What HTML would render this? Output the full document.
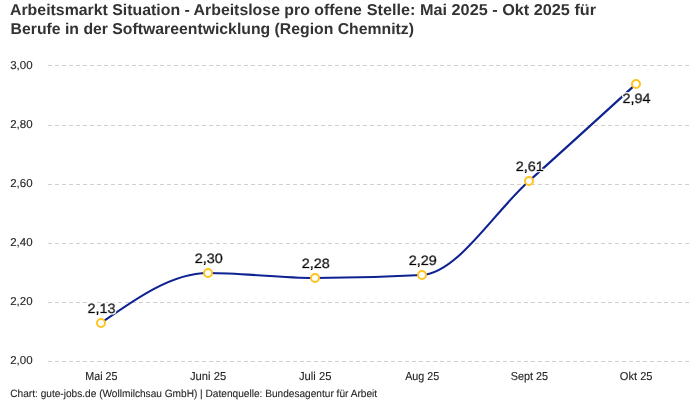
<!DOCTYPE html>
<html lang="de">
<head>
<meta charset="utf-8">
<title>Arbeitsmarkt Situation</title>
<style>
html,body{margin:0;padding:0;background:#fff;}
body{width:700px;height:400px;overflow:hidden;font-family:"Liberation Sans",sans-serif;}
svg{display:block;}
text{font-family:"Liberation Sans",sans-serif;text-rendering:geometricPrecision;}
.title{font-size:15.7px;font-weight:bold;fill:#333;}
.ytick{font-size:11.5px;fill:#262626;stroke:#262626;stroke-width:0.12px;}
.xtick{font-size:11.5px;fill:#262626;stroke:#262626;stroke-width:0.12px;text-anchor:middle;}
.val{font-size:13.5px;fill:#000;text-anchor:middle;stroke:#000;stroke-width:0.7px;filter:url(#halo);}
.foot{font-size:10.5px;fill:#262626;stroke:#262626;stroke-width:0.1px;}
.grid line{stroke:#d0d0d0;stroke-width:1;stroke-dasharray:4 3;shape-rendering:crispEdges;}
.pt circle{fill:#fff;stroke:#ffc421;stroke-width:2;}
</style>
</head>
<body>
<svg width="700" height="400" viewBox="0 0 700 400">
<defs><filter id="halo" x="-20%" y="-40%" width="140%" height="180%"><feMorphology in="SourceAlpha" operator="dilate" radius="0.5 1.4" result="d"/><feFlood flood-color="#fff" result="w"/><feComposite in="w" in2="d" operator="in" result="h"/><feMerge><feMergeNode in="h"/><feMergeNode in="SourceGraphic"/></feMerge></filter></defs>
<rect width="700" height="400" fill="#fff"/>
<text class="title" y="14.7"><tspan x="10" textLength="351.9" lengthAdjust="spacingAndGlyphs">Arbeitsmarkt Situation - Arbeitslose pro offene</tspan> <tspan x="366.7" textLength="229.4" lengthAdjust="spacingAndGlyphs">Stelle: Mai 2025 - Okt 2025 für</tspan></text>
<text class="title" x="10.6" y="33.7" textLength="403.4" lengthAdjust="spacingAndGlyphs">Berufe in der Softwareentwicklung (Region Chemnitz)</text>
<g class="grid">
<line x1="48" x2="690" y1="65.5" y2="65.5"/>
<line x1="48" x2="690" y1="125.5" y2="125.5"/>
<line x1="48" x2="690" y1="184.5" y2="184.5"/>
<line x1="48" x2="690" y1="243.5" y2="243.5"/>
<line x1="48" x2="690" y1="302.5" y2="302.5"/>
<line x1="48" x2="690" y1="361.5" y2="361.5"/>
</g>
<g>
<text class="ytick" x="10.2" y="69">3,00</text>
<text class="ytick" x="10.2" y="128">2,80</text>
<text class="ytick" x="10.2" y="187">2,60</text>
<text class="ytick" x="10.2" y="246">2,40</text>
<text class="ytick" x="10.2" y="305">2,20</text>
<text class="ytick" x="10.2" y="364">2,00</text>
</g>
<g>
<text class="xtick" x="101.4" y="379.8" textLength="32.2" lengthAdjust="spacingAndGlyphs">Mai 25</text>
<text class="xtick" x="208.1" y="379.8" textLength="36.2" lengthAdjust="spacingAndGlyphs">Juni 25</text>
<text class="xtick" x="315.25" y="379.8" textLength="32.5" lengthAdjust="spacingAndGlyphs">Juli 25</text>
<text class="xtick" x="422.2" y="379.8" textLength="34" lengthAdjust="spacingAndGlyphs">Aug 25</text>
<text class="xtick" x="529.35" y="379.8" textLength="37.3" lengthAdjust="spacingAndGlyphs">Sept 25</text>
<text class="xtick" x="636.15" y="379.8" textLength="32.7" lengthAdjust="spacingAndGlyphs">Okt 25</text>
</g>
<path d="M101,323C136.67,298.00,172.33,273.00,208,273C243.67,273.00,279.33,278.00,315,278C350.67,278.00,386.33,277.00,422,275C457.67,273.00,493.33,212.83,529,181C564.67,149.17,600.33,116.58,636,84" fill="none" stroke="#0f2291" stroke-width="2.15" stroke-linecap="butt" stroke-linejoin="round"/>
<g>
<text class="val" x="101.5" y="312.5" textLength="28.1" lengthAdjust="spacingAndGlyphs">2,13</text>
<text class="val" x="208.8" y="262.5" textLength="28.1" lengthAdjust="spacingAndGlyphs">2,30</text>
<text class="val" x="315.7" y="267.5" textLength="28.1" lengthAdjust="spacingAndGlyphs">2,28</text>
<text class="val" x="422.7" y="264.5" textLength="28.1" lengthAdjust="spacingAndGlyphs">2,29</text>
<text class="val" x="529.7" y="171" textLength="28.1" lengthAdjust="spacingAndGlyphs">2,61</text>
<text class="val" x="636.6" y="102.6" textLength="28.1" lengthAdjust="spacingAndGlyphs">2,94</text>
</g>
<g class="pt">
<circle cx="101" cy="323" r="4"/>
<circle cx="208" cy="273" r="4"/>
<circle cx="315" cy="278" r="4"/>
<circle cx="422" cy="275" r="4"/>
<circle cx="529" cy="181" r="4"/>
<circle cx="636" cy="84" r="4"/>
</g>
<text class="foot" x="10.3" y="397" textLength="366.8" lengthAdjust="spacingAndGlyphs">Chart: gute-jobs.de (Wollmilchsau GmbH) | Datenquelle: Bundesagentur für Arbeit</text>
</svg>
</body>
</html>
